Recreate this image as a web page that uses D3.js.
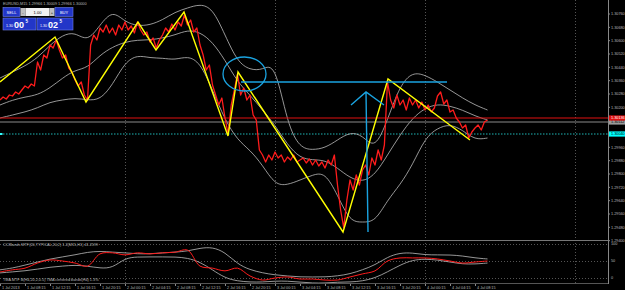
<!DOCTYPE html>
<html>
<head>
<meta charset="utf-8">
<script src="https://cdn.jsdelivr.net/npm/d3@7"></script>
<style>
  html,body{margin:0;padding:0;background:#000;overflow:hidden;}
  svg{display:block;font-family:"Liberation Sans",Arial,sans-serif;}
</style>
</head>
<body>
<svg id="chart" width="625" height="290"></svg>
<script>
/* ─────────────── Datos (EURUSD M15, horas desde 1 Jul 04:15) ─────────────── */
const PRICE_STEP = 0.5;   // h entre muestras de precio
const price = [
  1.30244,1.30262,1.30250,1.30274,1.30268,1.30292,1.30280,1.30304,1.30328,1.30316,
  1.30340,1.30328,1.30472,1.30424,1.30514,1.30496,1.30574,1.30556,1.30604,1.30544,
  1.30496,1.30514,1.30436,1.30412,1.30364,1.30328,1.30352,1.30274,1.30244,1.30574,
  1.30634,1.30604,1.30676,1.30652,1.30694,1.30646,1.30676,1.30634,1.30694,1.30664,
  1.30712,1.30664,1.30688,1.30646,1.30712,1.30664,1.30634,1.30652,1.30592,1.30616,
  1.30556,1.30604,1.30634,1.30676,1.30652,1.30700,1.30664,1.30712,1.30688,1.30754,
  1.30694,1.30724,1.30652,1.30676,1.30574,1.30514,1.30424,1.30454,1.30334,1.30274,
  1.30214,1.30256,1.30136,1.30040,1.30214,1.30304,1.30400,1.30274,1.30316,1.30244,
  1.30274,1.30154,1.30124,1.29944,1.29914,1.29872,1.29914,1.29884,1.29932,1.29896,
  1.29914,1.29872,1.29902,1.29884,1.29914,1.29872,1.29884,1.29896,1.29866,1.29890,
  1.29854,1.29884,1.29848,1.29872,1.29836,1.29884,1.29854,1.29914,1.29734,1.29584,
  1.29476,1.29644,1.29764,1.29704,1.29794,1.29734,1.29824,1.29854,1.29794,1.29896,
  1.29854,1.29944,1.29884,1.29974,1.30352,1.30244,1.30196,1.30274,1.30214,1.30244,
  1.30184,1.30256,1.30214,1.30244,1.30196,1.30232,1.30184,1.30214,1.30172,1.30196,
  1.30268,1.30292,1.30220,1.30244,1.30172,1.30184,1.30136,1.30112,1.30076,1.30094,
  1.30016,1.30052,1.30076,1.30094,1.30064,1.30112,1.30124
];

const BAND_STEP = 2;      // h entre muestras de bandas
const bandUp = [
  1.30376,1.30412,1.30448,1.30496,1.30574,1.30634,1.30652,1.30592,1.30694,1.30784,
  1.30712,1.30688,1.30694,1.30724,1.30772,1.30796,1.30820,1.30796,1.30634,1.30472,
  1.30424,1.30424,1.30472,1.30094,1.29956,1.29944,1.29956,1.30004,1.30052,1.30034,
  1.29944,1.30124,1.30334,1.30412,1.30394,1.30352,1.30304,1.30256,1.30214,1.30184
];
const bandMid = [
  1.30214,1.30244,1.30262,1.30274,1.30316,1.30376,1.30424,1.30436,1.30514,1.30562,
  1.30592,1.30604,1.30604,1.30616,1.30634,1.30664,1.30652,1.30592,1.30484,1.30352,
  1.30274,1.30184,1.30094,1.29974,1.29896,1.29884,1.29884,1.29836,1.29776,1.29752,
  1.29794,1.29914,1.30034,1.30136,1.30196,1.30220,1.30208,1.30184,1.30148,1.30124
];
const bandLow = [
  1.30136,1.30154,1.30172,1.30196,1.30232,1.30244,1.30256,1.30244,1.30244,1.30334,
  1.30472,1.30514,1.30496,1.30496,1.30484,1.30508,1.30472,1.30304,1.30124,1.30004,
  1.29944,1.29854,1.29734,1.29734,1.29764,1.29794,1.29812,1.29674,1.29512,1.29512,
  1.29512,1.29644,1.29734,1.29854,1.30016,1.30076,1.30100,1.30064,1.30004,1.30016
];

/* indicador inferior (misma rejilla que las bandas) */
const ind    = [18,24,29,44,53,50,44,35,71,74,68,74,71,74,76,82,35,29,21,29,
                6,-6,0,3,-3,-3,-6,-6,3,12,21,50,59,59,59,56,50,44,47,50];
const indUp  = [24,29,38,47,56,62,68,76,79,76,74,71,71,74,76,79,88,91,76,41,
                24,15,9,6,3,3,3,6,12,24,38,62,74,74,68,68,68,65,59,56];
const indLow = [15,18,21,26,32,35,38,35,29,29,59,62,62,62,62,59,47,24,0,-9,
                -12,-12,-9,-9,-12,-15,-15,-12,-12,-9,0,18,38,53,56,53,47,41,41,44];
const indLevels = [100, 50, 0];

/* ZigZag: [hora, precio] */
const zigzag = [
  [0,1.30352],[8.8,1.30622],[13.76,1.30232],[22.08,1.30712],[24.96,1.30544],
  [29.44,1.30772],[36.48,1.30028],[38.08,1.30412],[54.88,1.29452],[62.08,1.30370],
  [75.2,1.30004]
];

/* Objetos dibujados a mano (azul) */
const circleObj = { h: 39.12, p: 1.30400, rh: 3.44, rp: 0.00102 };
const levelObj  = { h0: 38.56, h1: 71.52, p: 1.30352 };
const arrowObj  = { base: [58.88, 1.29452], tip: [58.56, 1.30292],
                    left: [56.16, 1.30214], right: [61.44, 1.30214] };

const askPrice = 1.30136, bidPrice = 1.30112, levelPrice = 1.30040;

const priceTicks = [1.30760,1.30680,1.30600,1.30520,1.30440,1.30360,1.30280,1.30200,
                    1.29960,1.29880,1.29800,1.29720,1.29640,1.29560,1.29480,1.29400];
const separators = [20, 44, 68, 92];
const timeTicks  = [0,4,8,12,16,20,24,28,32,36,40,44,48,52,56,60,64,68,72,76];
const timeLabels = ['1 Jul 2013','1 Jul 08:15','1 Jul 12:15','1 Jul 16:15','1 Jul 20:15',
  '2 Jul 00:15','2 Jul 04:15','2 Jul 08:15','2 Jul 12:15','2 Jul 16:15','2 Jul 20:15',
  '3 Jul 00:15','3 Jul 04:15','3 Jul 08:15','3 Jul 12:15','3 Jul 16:15','3 Jul 20:15',
  '4 Jul 00:15','4 Jul 04:15','4 Jul 08:15'];

/* ─────────────── Escalas ─────────────── */
const AX = 608;                                   // eje de precios
const x  = d3.scaleLinear().domain([0, 97.28]).range([0, AX]);
const y  = d3.scaleLinear().domain([1.30844, 1.29404]).range([0, 240]);
const yi = d3.scaleLinear().domain([100, 0]).range([244, 278]);

const svg = d3.select('#chart');
svg.append('rect').attr('width', 625).attr('height', 290).attr('fill', '#000');

const defs = svg.append('defs');
defs.append('clipPath').attr('id', 'cMain')
  .append('rect').attr('x', 0).attr('y', 0).attr('width', AX).attr('height', 240);
defs.append('clipPath').attr('id', 'cInd')
  .append('rect').attr('x', 0).attr('y', 241).attr('width', AX).attr('height', 42);

const FS = 3.8, TXT = '#b8b8b8';

/* separadores de día */
svg.append('g').selectAll('line').data(separators).join('line')
  .attr('x1', d => x(d) + 0.5).attr('x2', d => x(d) + 0.5)
  .attr('y1', 0).attr('y2', 283)
  .attr('stroke', '#6a6a6a').attr('stroke-width', 0.8).attr('stroke-dasharray', '1,2');

/* ─────────────── Ventana principal ─────────────── */
const main = svg.append('g').attr('clip-path', 'url(#cMain)');

main.append('line')
  .attr('x1', 0).attr('x2', AX).attr('y1', y(levelPrice)).attr('y2', y(levelPrice))
  .attr('stroke', '#1fb5b5').attr('stroke-width', 1).attr('stroke-dasharray', '1.5,1.5');

const bandLine = d3.line()
  .x((d, i) => x(i * BAND_STEP)).y(d => y(d)).curve(d3.curveBasis);
[bandUp, bandMid, bandLow].forEach(b => {
  main.append('path').attr('d', bandLine(b))
    .attr('fill', 'none').attr('stroke', '#bdbdbd').attr('stroke-width', 0.8);
});

main.append('line')
  .attr('x1', 0).attr('x2', AX).attr('y1', y(bidPrice)).attr('y2', y(bidPrice))
  .attr('stroke', '#8a8a8a').attr('stroke-width', 1);
main.append('line')
  .attr('x1', 0).attr('x2', AX).attr('y1', y(askPrice)).attr('y2', y(askPrice))
  .attr('stroke', '#e01010').attr('stroke-width', 1);

main.append('path')
  .attr('d', d3.line().x((d, i) => x(i * PRICE_STEP)).y(d => y(d))(price))
  .attr('fill', 'none').attr('stroke', '#ff1c1c').attr('stroke-width', 1.3)
  .attr('stroke-linejoin', 'round');

main.append('path')
  .attr('d', d3.line().x(d => x(d[0])).y(d => y(d[1]))(zigzag))
  .attr('fill', 'none').attr('stroke', '#ffff00').attr('stroke-width', 1.4);

/* objetos azules */
const BLUE = '#1aa3e0';
main.append('ellipse')
  .attr('cx', x(circleObj.h)).attr('cy', y(circleObj.p))
  .attr('rx', x(circleObj.h + circleObj.rh) - x(circleObj.h))
  .attr('ry', y(circleObj.p - circleObj.rp) - y(circleObj.p))
  .attr('fill', 'none').attr('stroke', BLUE).attr('stroke-width', 1.3);
main.append('line')
  .attr('x1', x(levelObj.h0)).attr('x2', x(levelObj.h1))
  .attr('y1', y(levelObj.p)).attr('y2', y(levelObj.p))
  .attr('stroke', BLUE).attr('stroke-width', 1.6);
const A = arrowObj;
main.append('path')
  .attr('d', `M${x(A.base[0])},${y(A.base[1])}L${x(A.tip[0])},${y(A.tip[1])}` +
             `M${x(A.left[0])},${y(A.left[1])}L${x(A.tip[0])},${y(A.tip[1])}` +
             `L${x(A.right[0])},${y(A.right[1])}`)
  .attr('fill', 'none').attr('stroke', BLUE).attr('stroke-width', 1.4);

/* marca cian a la izquierda */
svg.append('rect').attr('x', 0).attr('y', y(levelPrice) - 1).attr('width', 2.5).attr('height', 2)
  .attr('fill', '#3ff');

/* ─────────────── Indicador ─────────────── */
svg.append('line').attr('x1', 0).attr('x2', AX).attr('y1', 240.5).attr('y2', 240.5)
  .attr('stroke', '#777').attr('stroke-width', 1);

const indG = svg.append('g').attr('clip-path', 'url(#cInd)');
indG.selectAll('line.lv').data(indLevels).join('line')
  .attr('x1', 0).attr('x2', AX).attr('y1', d => yi(d) + 0.5).attr('y2', d => yi(d) + 0.5)
  .attr('stroke', '#6a6a6a').attr('stroke-width', 0.8).attr('stroke-dasharray', '1,2');

const indBand = d3.line().x((d, i) => x(i * BAND_STEP)).y(d => yi(d)).curve(d3.curveBasis);
[indUp, indLow].forEach(b => {
  indG.append('path').attr('d', indBand(b))
    .attr('fill', 'none').attr('stroke', '#bdbdbd').attr('stroke-width', 0.8);
});
indG.append('path')
  .attr('d', d3.line().x((d, i) => x(i * BAND_STEP)).y(d => yi(d)).curve(d3.curveCatmullRom)(ind))
  .attr('fill', 'none').attr('stroke', '#ff1c1c').attr('stroke-width', 1);

svg.append('text').attr('x', 3).attr('y', 246).attr('font-size', FS).attr('fill', TXT)
  .text('CCIBands MTF(20,TYPICAL,20,2) 1.2(M15,H1) 41.2599');
svg.append('text').attr('x', 3).attr('y', 281).attr('font-size', FS).attr('fill', TXT)
  .text('TMA MTF B(H4,20,2,0.5) TMA centered bands(H4) 1.3%');

/* ─────────────── Eje de precios ─────────────── */
svg.append('line').attr('x1', AX + 0.5).attr('x2', AX + 0.5).attr('y1', 0).attr('y2', 284)
  .attr('stroke', '#888').attr('stroke-width', 1);

const pt = svg.append('g').selectAll('g').data(priceTicks).join('g')
  .attr('transform', d => `translate(${AX},${y(d)})`);
pt.append('line').attr('x2', 2).attr('stroke', '#888');
pt.append('text').attr('x', 3).attr('dy', '0.35em').attr('font-size', FS).attr('fill', TXT)
  .text(d => d.toFixed(5));

const tags = [
  { p: bidPrice,   bg: '#9a9a9a', fg: '#000' },
  { p: askPrice,   bg: '#e01010', fg: '#fff' },
  { p: levelPrice, bg: '#00ffff', fg: '#000' }
];
const tg = svg.append('g').selectAll('g').data(tags).join('g')
  .attr('transform', d => `translate(${AX + 1},${y(d.p)})`);
tg.append('rect').attr('y', -2.6).attr('width', 16).attr('height', 5.2).attr('fill', d => d.bg);
tg.append('text').attr('x', 2).attr('dy', '0.35em').attr('font-size', FS)
  .attr('fill', d => d.fg).text(d => d.p.toFixed(5));

svg.append('g').selectAll('text').data(indLevels).join('text')
  .attr('x', AX + 3).attr('y', d => yi(d)).attr('dy', '0.35em')
  .attr('font-size', FS).attr('fill', TXT).text(d => d);

/* ─────────────── Eje de tiempo ─────────────── */
svg.append('line').attr('x1', 0).attr('x2', AX).attr('y1', 283.5).attr('y2', 283.5)
  .attr('stroke', '#555').attr('stroke-width', 1);
const tt = svg.append('g').selectAll('g').data(timeTicks).join('g')
  .attr('transform', d => `translate(${x(d)},0)`);
tt.append('line').attr('x1', 0.5).attr('x2', 0.5).attr('y1', 284).attr('y2', 286)
  .attr('stroke', '#888');
tt.append('text').attr('x', 2).attr('y', 288.5).attr('font-size', FS).attr('fill', TXT)
  .text((d, i) => timeLabels[i]);

/* ─────────────── Cabecera y panel de órdenes ─────────────── */
svg.append('text').attr('x', 3).attr('y', 5).attr('font-size', FS).attr('fill', TXT)
  .text('EURUSD,M15  1.29966 1.30009 1.29966 1.30000');

const panel = svg.append('g');
const BTN = '#2236c8', BTN_EDGE = '#6f7fe8';
panel.append('rect').attr('x', 3).attr('y', 7.5).attr('width', 17).attr('height', 9)
  .attr('fill', BTN).attr('stroke', BTN_EDGE).attr('stroke-width', 0.6);
panel.append('text').attr('x', 11.5).attr('y', 13.5).attr('text-anchor', 'middle')
  .attr('font-size', 4).attr('fill', '#fff').text('SELL');
panel.append('rect').attr('x', 20.5).attr('y', 8).attr('width', 5).attr('height', 8).attr('fill', '#bfbfbf');
panel.append('text').attr('x', 23).attr('y', 13.5).attr('text-anchor', 'middle')
  .attr('font-size', 4).attr('fill', '#000').text('-');
panel.append('rect').attr('x', 25.5).attr('y', 8).attr('width', 24).attr('height', 8).attr('fill', '#f2f2f2');
panel.append('text').attr('x', 37.5).attr('y', 13.5).attr('text-anchor', 'middle')
  .attr('font-size', 4).attr('fill', '#000').text('1.00');
panel.append('rect').attr('x', 49.5).attr('y', 8).attr('width', 5).attr('height', 8).attr('fill', '#bfbfbf');
panel.append('text').attr('x', 52).attr('y', 13.5).attr('text-anchor', 'middle')
  .attr('font-size', 4).attr('fill', '#000').text('+');
panel.append('rect').attr('x', 55).attr('y', 7.5).attr('width', 18).attr('height', 9)
  .attr('fill', BTN).attr('stroke', BTN_EDGE).attr('stroke-width', 0.6);
panel.append('text').attr('x', 64).attr('y', 13.5).attr('text-anchor', 'middle')
  .attr('font-size', 4).attr('fill', '#fff').text('BUY');

[{ x0: 3, w: 33, big: '00' }, { x0: 37, w: 36, big: '02' }].forEach(q => {
  panel.append('rect').attr('x', q.x0).attr('y', 18).attr('width', q.w).attr('height', 12)
    .attr('fill', BTN).attr('stroke', BTN_EDGE).attr('stroke-width', 0.6);
  panel.append('text').attr('x', q.x0 + 3).attr('y', 27).attr('font-size', 3.6)
    .attr('fill', '#fff').text('1.30');
  panel.append('text').attr('x', q.x0 + 11).attr('y', 28).attr('font-size', 9)
    .attr('font-weight', 'bold').attr('fill', '#fff').text(q.big);
  panel.append('text').attr('x', q.x0 + 22.5).attr('y', 23).attr('font-size', 4.5)
    .attr('font-weight', 'bold').attr('fill', '#fff').text('5');
});
</script>
</body>
</html>
